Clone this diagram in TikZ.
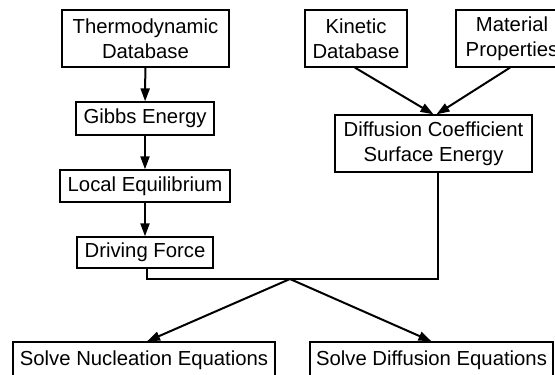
\documentclass[tikz,border=0pt]{standalone}
\usepackage{fontspec}
\setmainfont{Liberation Sans}
\usetikzlibrary{arrows.meta}
\begin{document}
\begin{tikzpicture}[x=1pt,y=-1pt,
 box/.style={draw,line width=1.3pt,inner sep=0pt,align=center,font=\fontsize{20.3}{25}\selectfont},
 arr/.style={line width=2pt,-{Triangle[length=13pt,width=9pt]}},
 ln/.style={line width=2pt}]
\useasboundingbox (0,0) rectangle (555,375);
\clip (0,0) rectangle (555,375);
\node[box,minimum width=167pt,minimum height=57pt] (thermo) at (145.5,38.5) {Thermodynamic\\Database};
\node[box,minimum width=138pt,minimum height=33pt] (gibbs) at (145,118.5) {Gibbs Energy};
\node[box,minimum width=170pt,minimum height=32pt] (local) at (145,186) {Local Equilibrium};
\node[box,minimum width=136pt,minimum height=31pt] (drive) at (145,252.5) {Driving Force};
\node[box,minimum width=102pt,minimum height=57pt] (kinetic) at (356,38.5) {Kinetic\\Database};
\node[box,minimum width=112pt,minimum height=57pt] (material) at (512,38.5) {Material\\Properties};
\node[box,minimum width=197pt,minimum height=57pt] (diff) at (433.5,143.5) {Diffusion Coefficient\\Surface Energy};
\node[box,minimum width=262pt,minimum height=36pt] (nucl) at (144,360) {Solve Nucleation Equations};
\node[box,minimum width=243pt,minimum height=36pt] (dsolve) at (431.5,360) {Solve Diffusion Equations};
\coordinate (jr) at (438,279);
\coordinate (j) at (290,279);
\draw[arr] (thermo) -- (gibbs);
\draw[arr] (gibbs) -- (local);
\draw[arr] (local) -- (drive);
\draw[arr] ([xshift=-1pt]kinetic.south) -- (diff.north);
\draw[arr] ([xshift=-2pt]material.south) -- ([xshift=3pt]diff.north);
\draw[ln] ([xshift=2pt]drive.south) |- (jr) -- ([xshift=4.5pt]diff.south);
\draw[arr] (j) -- ([xshift=3pt]nucl.north);
\draw[arr] (j) -- (dsolve.north);
\end{tikzpicture}
\end{document}
